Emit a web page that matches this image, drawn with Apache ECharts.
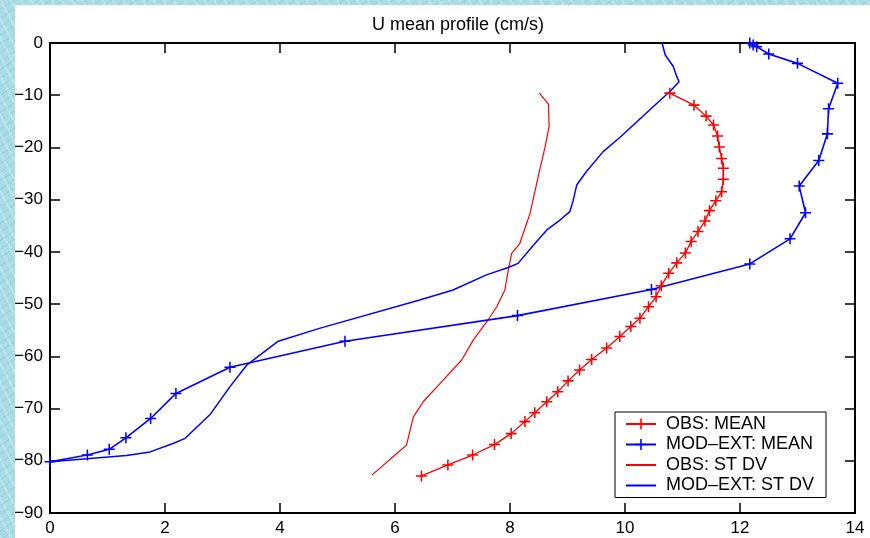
<!DOCTYPE html>
<html>
<head>
<meta charset="utf-8">
<script src="https://cdn.jsdelivr.net/npm/echarts@6/dist/echarts.min.js"></script>
<style>
  html, body { margin: 0; padding: 0; }
  body {
    width: 870px; height: 538px; overflow: hidden; position: relative;
    background-color: #a9dce5;
    background-image:
      repeating-linear-gradient(62deg, rgba(255,255,255,0.22) 0px, rgba(255,255,255,0.22) 2px, rgba(255,255,255,0) 2px, rgba(255,255,255,0) 9px),
      repeating-linear-gradient(-35deg, rgba(80,160,175,0.18) 0px, rgba(80,160,175,0.18) 1px, rgba(80,160,175,0) 1px, rgba(80,160,175,0) 7px);
  }
  #paper { position: absolute; left: 15px; top: 5px; width: 855px; height: 533px; background: #ffffff; }
  #chart { position: absolute; left: 0; top: 0; width: 870px; height: 538px; }
</style>
</head>
<body>
<div id="paper"></div>
<div id="chart"></div>
<script>
// ---- data (x: velocity cm/s, y: depth) ----
const titleText = 'U mean profile (cm/s)';
const legendNames = ['OBS: MEAN', 'MOD–EXT: MEAN', 'OBS: ST DV', 'MOD–EXT: ST DV'];
const xTicks = { min: 0, max: 14, interval: 2 };
const yTicks = { min: -90, max: 0, interval: 10 };

const obsMeanU = [10.78, 11.20, 11.41, 11.54, 11.61, 11.64, 11.68, 11.71, 11.71, 11.68,
                  11.58, 11.47, 11.39, 11.27, 11.15, 11.05, 10.90, 10.76, 10.63, 10.54,
                  10.41, 10.26, 10.10, 9.91, 9.68, 9.42, 9.21, 9.01, 8.83, 8.64,
                  8.43, 8.26, 8.02, 7.73, 7.35, 6.92, 6.46];
const obsMeanDepth = [-9.6, -11.9, -14.0, -15.7, -17.8, -19.9, -22.1, -24.0, -26.1, -28.5,
                      -30.2, -32.1, -34.1, -36.1, -38.0, -40.2, -42.1, -44.1, -46.5, -48.6,
                      -50.5, -52.7, -54.3, -56.2, -58.4, -60.6, -62.6, -64.7, -66.8, -68.7,
                      -70.8, -72.5, -74.8, -76.9, -78.9, -80.8, -82.9];

const modMeanU = [12.17, 12.23, 12.29, 12.50, 13.00, 13.70, 13.54, 13.52, 13.37, 13.03,
                  13.14, 12.87, 12.17, 10.46, 8.13, 5.13, 3.13, 2.19, 1.75, 1.32,
                  1.03, 0.65, 0.00];
const modMeanDepth = [0.0, -0.4, -0.7, -2.1, -3.9, -7.7, -12.6, -17.4, -22.5, -27.4,
                      -32.5, -37.5, -42.3, -47.2, -52.2, -57.1, -62.1, -67.1, -71.9, -75.6,
                      -77.8, -78.9, -80.2];

const obsStdU = [8.51, 8.67, 8.68, 8.61, 8.49, 8.35, 8.17, 8.03, 7.97, 7.91,
                 7.77, 7.62, 7.36, 7.16, 6.81, 6.49, 6.32, 6.20, 6.00, 5.74, 5.60];
const obsStdDepth = [-9.6, -11.7, -16.0, -19.9, -25.6, -32.6, -38.4, -40.3, -43.5, -47.3,
                     -50.5, -53.0, -56.9, -60.7, -64.9, -68.7, -71.6, -77.0, -78.9, -81.4, -82.7];

const modStdU = [10.64, 10.70, 10.84, 10.90, 10.94, 10.78, 10.49, 9.91, 9.62, 9.33,
                 9.16, 9.10, 9.04, 8.87, 8.64, 8.41, 8.14, 7.97, 7.59, 7.01,
                 6.43, 4.70, 3.97, 3.42, 3.13, 2.78, 2.35, 2.14, 1.74, 1.33,
                 0.00];
const modStdDepth = [0.2, -2.3, -4.5, -6.4, -7.4, -9.3, -12.2, -18.1, -20.8, -24.6,
                     -27.2, -30.1, -32.3, -33.9, -35.8, -38.7, -42.2, -43.0, -44.4, -47.3,
                     -49.2, -54.6, -57.1, -61.7, -65.8, -71.2, -75.7, -76.7, -78.3, -79.0,
                     -80.2];

function pairs(xs, ys) { return xs.map((x, i) => [x, ys[i]]); }

const plusPath = 'path://M-0.7,-5L0.7,-5L0.7,-0.7L5,-0.7L5,0.7L0.7,0.7L0.7,5L-0.7,5L-0.7,0.7L-5,0.7L-5,-0.7L-0.7,-0.7Z';
const FONT = "'Liberation Sans', Arial, Helvetica, sans-serif";
const minusFmt = v => String(v).replace('-', '\u2212');

const chart = echarts.init(document.getElementById('chart'), null, { renderer: 'canvas' });
chart.setOption({
  backgroundColor: 'transparent',
  animation: false,
  title: {
    text: titleText, left: 453, top: 11, textAlign: 'center',
    textStyle: { fontFamily: FONT, fontSize: 18, fontWeight: 'normal', color: '#000' }
  },
  grid: { left: 50, right: 15, top: 43, bottom: 25, containLabel: false },
  legend: {
    data: [
      { name: legendNames[0] },
      { name: legendNames[1] },
      { name: legendNames[2], itemStyle: { opacity: 0 } },
      { name: legendNames[3], itemStyle: { opacity: 0 } }
    ],
    orient: 'vertical', left: 615, top: 412,
    backgroundColor: '#fff', borderColor: '#000', borderWidth: 1, borderRadius: 0,
    padding: [3, 12, 3, 10], itemWidth: 30, itemHeight: 14, itemGap: 2.5,
    textStyle: { fontFamily: FONT, fontSize: 18, color: '#000', padding: [0, 0, 0, 5] }
  },
  xAxis: [
    { type: 'value', min: xTicks.min, max: xTicks.max, interval: xTicks.interval, position: 'bottom',
      axisLine: { show: true, onZero: false, lineStyle: { color: '#000', width: 2 } },
      axisTick: { show: true, inside: true, length: 10, lineStyle: { color: '#000', width: 1.5 } },
      axisLabel: { fontFamily: FONT, fontSize: 17, color: '#000', margin: 7, formatter: minusFmt },
      splitLine: { show: false } },
    { type: 'value', min: xTicks.min, max: xTicks.max, interval: xTicks.interval, position: 'top',
      axisLine: { show: true, onZero: false, lineStyle: { color: '#000', width: 2 } },
      axisTick: { show: true, inside: true, length: 10, lineStyle: { color: '#000', width: 1.5 } },
      axisLabel: { show: false }, splitLine: { show: false } }
  ],
  yAxis: [
    { type: 'value', min: yTicks.min, max: yTicks.max, interval: yTicks.interval, position: 'left',
      axisLine: { show: true, onZero: false, lineStyle: { color: '#000', width: 2 } },
      axisTick: { show: true, inside: true, length: 10, lineStyle: { color: '#000', width: 1.5 } },
      axisLabel: { fontFamily: FONT, fontSize: 17, color: '#000', margin: 7, formatter: minusFmt },
      splitLine: { show: false } },
    { type: 'value', min: yTicks.min, max: yTicks.max, interval: yTicks.interval, position: 'right',
      axisLine: { show: true, onZero: false, lineStyle: { color: '#000', width: 2 } },
      axisTick: { show: true, inside: true, length: 10, lineStyle: { color: '#000', width: 1.5 } },
      axisLabel: { show: false }, splitLine: { show: false } }
  ],
  series: [
    { name: legendNames[0], type: 'line', data: pairs(obsMeanU, obsMeanDepth),
      symbol: plusPath, symbolSize: 11, showSymbol: true,
      lineStyle: { color: '#ff0000', width: 1.3 }, itemStyle: { color: '#ff0000' }, z: 4 },
    { name: legendNames[1], type: 'line', data: pairs(modMeanU, modMeanDepth),
      symbol: plusPath, symbolSize: 11, showSymbol: true,
      lineStyle: { color: '#0000ff', width: 1.6 }, itemStyle: { color: '#0000ff' }, z: 3 },
    { name: legendNames[2], type: 'line', data: pairs(obsStdU, obsStdDepth),
      symbol: 'none', showSymbol: false,
      lineStyle: { color: '#ff0000', width: 1.2 }, itemStyle: { color: '#ff0000' }, z: 2 },
    { name: legendNames[3], type: 'line', data: pairs(modStdU, modStdDepth),
      symbol: 'none', showSymbol: false,
      lineStyle: { color: '#0000ff', width: 1.5 }, itemStyle: { color: '#0000ff' }, z: 2 }
  ]
});
</script>
</body>
</html>
